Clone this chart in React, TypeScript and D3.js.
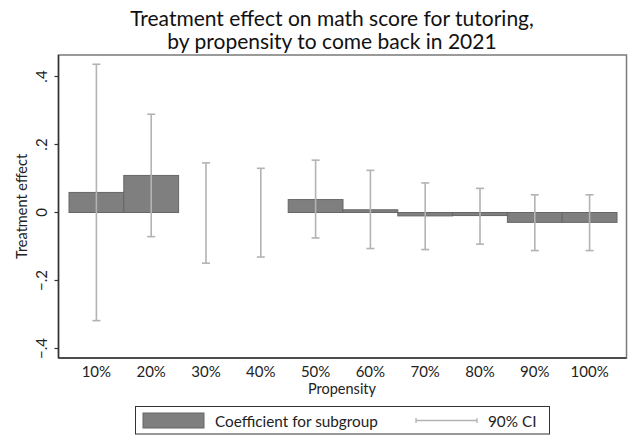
import React, { useEffect, useRef } from "react";
import * as d3 from "d3";

// Subgroups by propensity to come back
const categories = ["10%", "20%", "30%", "40%", "50%", "60%", "70%", "80%", "90%", "100%"];
// Point estimate of the tutoring effect for each subgroup
const coefficients = [0.059, 0.109, 0, 0, 0.038, 0.008, -0.01, -0.009, -0.029, -0.029];
// 90% confidence interval bounds
const ciLower = [-0.318, -0.071, -0.149, -0.131, -0.075, -0.106, -0.109, -0.093, -0.112, -0.112];
const ciUpper = [0.436, 0.289, 0.146, 0.130, 0.154, 0.124, 0.087, 0.071, 0.052, 0.052];
const yTicks = [-0.4, -0.2, 0, 0.2, 0.4];

const W = 628;
const H = 436;
const FONT = "Lato, 'Open Sans', sans-serif";

export default function App() {
  const ref = useRef<SVGSVGElement>(null);

  useEffect(() => {
    document.body.style.margin = "0";
    const svg = d3.select(ref.current);
    svg.selectAll("*").remove();

    const box = { left: 58.5, right: 626.5, top: 55, bottom: 358 };

    const x = d3.scaleBand<string>().domain(categories).range([69, 617]).padding(0);
    const y = d3.scaleLinear().domain([-0.4, 0.4]).range([348.5, 76.5]);

    svg.append("rect").attr("width", W).attr("height", H).attr("fill", "#fff");

    // Plot frame
    svg.append("rect")
      .attr("x", box.left).attr("y", box.top)
      .attr("width", box.right - box.left).attr("height", box.bottom - box.top)
      .attr("fill", "none").attr("stroke", "#7a7a7a").attr("stroke-width", 1.5);

    // Bars
    const data = categories.map((c, i) => ({
      c, v: coefficients[i], lo: ciLower[i], hi: ciUpper[i],
    }));

    svg.append("g").selectAll("rect")
      .data(data.filter(d => d.v !== 0))
      .join("rect")
      .attr("x", d => x(d.c)!)
      .attr("width", x.bandwidth())
      .attr("y", d => y(Math.max(0, d.v)))
      .attr("height", d => Math.abs(y(d.v) - y(0)))
      .attr("fill", "#7f7f7f")
      .attr("stroke", "#666")
      .attr("stroke-width", 1);

    // Confidence intervals
    const ci = svg.append("g").attr("stroke", "#b3b3b3").attr("stroke-width", 1.6).attr("fill", "none");
    const cx = (d: { c: string }) => x(d.c)! + x.bandwidth() / 2;
    const cap = 4;
    ci.selectAll("line.v").data(data).join("line").attr("class", "v")
      .attr("x1", cx).attr("x2", cx)
      .attr("y1", d => y(d.lo)).attr("y2", d => y(d.hi));
    ci.selectAll("line.t").data(data).join("line").attr("class", "t")
      .attr("x1", d => cx(d) - cap).attr("x2", d => cx(d) + cap)
      .attr("y1", d => y(d.hi)).attr("y2", d => y(d.hi));
    ci.selectAll("line.b").data(data).join("line").attr("class", "b")
      .attr("x1", d => cx(d) - cap).attr("x2", d => cx(d) + cap)
      .attr("y1", d => y(d.lo)).attr("y2", d => y(d.lo));

    // Axes lines
    svg.append("line")
      .attr("x1", box.left).attr("x2", box.left)
      .attr("y1", box.top).attr("y2", box.bottom)
      .attr("stroke", "#333").attr("stroke-width", 1.5);
    svg.append("line")
      .attr("x1", box.left).attr("x2", box.right)
      .attr("y1", box.bottom).attr("y2", box.bottom)
      .attr("stroke", "#333").attr("stroke-width", 1.5);

    const fmt = (v: number) => (v === 0 ? "0" : d3.format(".1f")(v).replace("0.", "."));
    const yt = svg.append("g");
    yt.selectAll("line").data(yTicks).join("line")
      .attr("x1", box.left - 4).attr("x2", box.left)
      .attr("y1", d => y(d)).attr("y2", d => y(d))
      .attr("stroke", "#333").attr("stroke-width", 1.2);
    yt.selectAll("text").data(yTicks).join("text")
      .attr("transform", d => `translate(47,${y(d)}) rotate(-90)`)
      .attr("text-anchor", "middle")
      .attr("font-family", FONT).attr("font-size", 15).attr("fill", "#222")
      .text(fmt);

    svg.append("text")
      .attr("transform", `translate(27,${(box.top + box.bottom) / 2}) rotate(-90)`)
      .attr("text-anchor", "middle")
      .attr("font-family", FONT).attr("font-size", 14.5).attr("fill", "#222")
      .text("Treatment effect");

    // X tick labels
    svg.append("g").selectAll("text").data(categories).join("text")
      .attr("x", d => x(d)! + x.bandwidth() / 2)
      .attr("y", 377)
      .attr("text-anchor", "middle")
      .attr("font-family", FONT).attr("font-size", 15).attr("fill", "#222")
      .text(d => d);

    svg.append("text")
      .attr("x", 342).attr("y", 394)
      .attr("text-anchor", "middle")
      .attr("font-family", FONT).attr("font-size", 14.5).attr("fill", "#222")
      .text("Propensity");

    // Title
    const title = ["Treatment effect on math score for tutoring,", "by propensity to come back in 2021"];
    svg.append("g").selectAll("text").data(title).join("text")
      .attr("x", 332)
      .attr("y", (_, i) => 26 + i * 23)
      .attr("text-anchor", "middle")
      .attr("font-family", FONT).attr("font-size", 21).attr("fill", "#111")
      .text(d => d);

    // Legend
    const lg = svg.append("g");
    lg.append("rect")
      .attr("x", 135.5).attr("y", 406.5).attr("width", 414).attr("height", 27.5)
      .attr("fill", "#fff").attr("stroke", "#333").attr("stroke-width", 1);
    lg.append("rect")
      .attr("x", 143).attr("y", 413).attr("width", 61).attr("height", 15)
      .attr("fill", "#7f7f7f").attr("stroke", "#666");
    lg.append("text")
      .attr("x", 215).attr("y", 426.5)
      .attr("font-family", FONT).attr("font-size", 15.3).attr("fill", "#222")
      .text("Coefficient for subgroup");
    const lci = lg.append("g").attr("stroke", "#b3b3b3").attr("stroke-width", 1.3);
    lci.append("line").attr("x1", 416).attr("x2", 477).attr("y1", 420.5).attr("y2", 420.5);
    lci.append("line").attr("x1", 416).attr("x2", 416).attr("y1", 418).attr("y2", 423);
    lci.append("line").attr("x1", 477).attr("x2", 477).attr("y1", 418).attr("y2", 423);
    lg.append("text")
      .attr("x", 488).attr("y", 426.5)
      .attr("font-family", FONT).attr("font-size", 15.3).attr("fill", "#222")
      .text("90% CI");
  }, []);

  return (
    <svg
      ref={ref}
      width={W}
      height={H}
      style={{ position: "absolute", left: 0, top: 0, display: "block" }}
    />
  );
}
